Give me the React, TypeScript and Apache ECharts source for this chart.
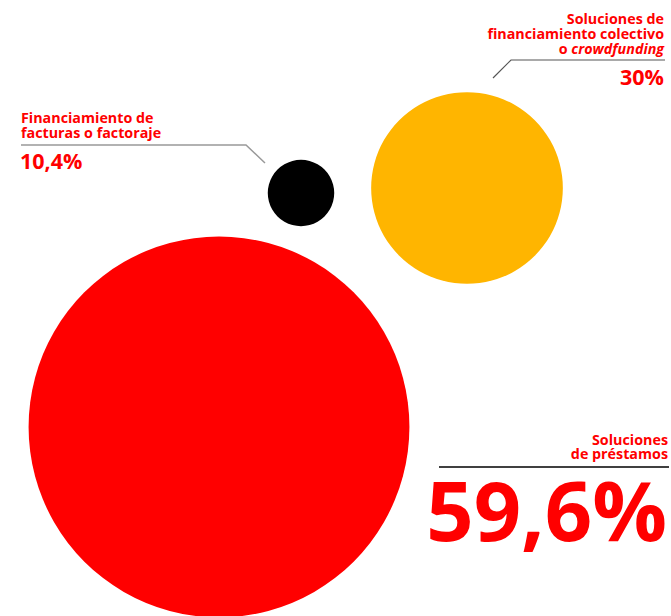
import React, { useEffect, useRef } from "react";
import * as echarts from "echarts";

const categories = [
  "Financiamiento de facturas o factoraje",
  "Soluciones de financiamiento colectivo o crowdfunding",
  "Soluciones de préstamos",
];
const labelLines = [
  "Financiamiento de\nfacturas o factoraje",
  "Soluciones de\nfinanciamiento colectivo\no {i|crowdfunding}",
  "Soluciones\nde préstamos",
];
const values = [10.4, 30, 59.6];
const colors = ["#000000", "#FFB500", "#FF0000"];
const centerX = [301, 467, 219];
const centerY = [193, 188, 427];

const SIZE_PER_UNIT = 6.39;
const RED = "#FF0000";
const FONT = "'Open Sans', sans-serif";
const SMALL = 14.3;

const fmt = (v: number) => String(v).replace(".", ",") + "%";

export default function App() {
  const ref = useRef<HTMLDivElement>(null);
  useEffect(() => {
    if (!ref.current) return;
    const chart = echarts.init(ref.current, undefined, { renderer: "svg" });
    const block = (x: number, y: number, text: string, align: string, lh: number) => ({
      type: "text",
      x,
      y,
      silent: true,
      style: {
        text,
        fill: RED,
        fontFamily: FONT,
        fontWeight: 700,
        fontSize: SMALL,
        lineHeight: lh,
        textAlign: align,
        textVerticalAlign: "top",
        rich: {
          i: { fontStyle: "italic", fontWeight: 700, fontSize: SMALL, fontFamily: FONT, fill: RED, lineHeight: lh },
        },
      },
    });
    const big = (x: number, y: number, text: string, size: number, align: string) => ({
      type: "text",
      x,
      y,
      silent: true,
      style: {
        text,
        fill: RED,
        font: `700 ${size}px ${FONT}`,
        textAlign: align,
        textVerticalAlign: "middle",
      },
    });
    chart.setOption({
      animation: false,
      grid: { left: 0, right: 0, top: 0, bottom: 0 },
      xAxis: { type: "value", min: 0, max: 671, show: false },
      yAxis: { type: "value", min: 0, max: 616, inverse: true, show: false },
      series: [
        {
          type: "scatter",
          symbol: "circle",
          data: values.map((v, i) => ({
            name: categories[i],
            value: [centerX[i], centerY[i], v],
            itemStyle: { color: colors[i], opacity: 1 },
          })),
          symbolSize: (d: number[]) => d[2] * SIZE_PER_UNIT,
          emphasis: { disabled: true },
          z: 1,
        },
      ],
      graphic: [
        // left label (factoraje)
        block(21, 110.5, labelLines[0], "left", 14.5),
        big(20, 160.5, fmt(values[0]), 21.5, "left"),
        {
          type: "polyline",
          silent: true,
          shape: { points: [[21, 145], [246, 145], [265, 163]] },
          style: { stroke: "#999999", lineWidth: 1.5, fill: null },
        },
        // top right label (crowdfunding)
        block(664, 11.3, labelLines[1], "right", 15),
        {
          type: "polyline",
          silent: true,
          shape: { points: [[665, 60], [511, 60], [493, 78]] },
          style: { stroke: "#555555", lineWidth: 1.2, fill: null },
        },
        big(664, 76, fmt(values[1]), 21.5, "right"),
        // bottom right label (prestamos)
        block(668, 432, labelLines[2], "right", 14),
        {
          type: "line",
          silent: true,
          shape: { x1: 439, y1: 467, x2: 669, y2: 467 },
          style: { stroke: "#000000", lineWidth: 1.5 },
        },
        big(667, 508, fmt(values[2]), 83, "right"),
      ],
    });
    return () => chart.dispose();
  }, []);
  return (
    <div
      ref={ref}
      style={{ position: "fixed", left: 0, top: 0, width: 671, height: 616, background: "#ffffff" }}
    />
  );
}
